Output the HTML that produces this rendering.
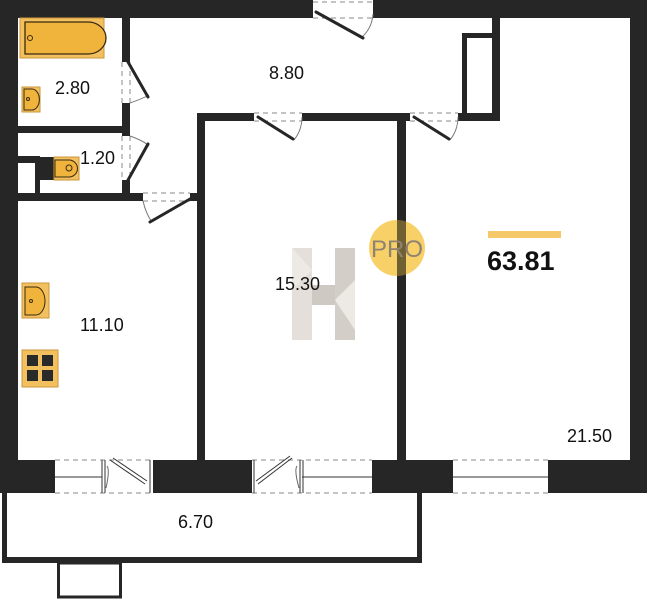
<!DOCTYPE html>
<html><head><meta charset="utf-8"><style>
html,body{margin:0;padding:0;background:#fff;}
svg{display:block;}
text{font-family:"Liberation Sans",sans-serif;fill:#111;}
</style></head><body>
<svg width="647" height="600" viewBox="0 0 647 600" xmlns="http://www.w3.org/2000/svg">
<g fill="#262626">
<!-- outer walls -->
<rect x="0" y="0" width="313" height="18"/>
<rect x="373" y="0" width="274" height="18"/>
<rect x="0" y="0" width="18" height="493"/>
<rect x="630" y="0" width="17" height="493"/>
<!-- bathroom partition -->
<rect x="122" y="18" width="8" height="44"/>
<rect x="122" y="103" width="8" height="33"/>
<rect x="122" y="180" width="8" height="21"/>
<rect x="18" y="126" width="107" height="7"/>
<rect x="18" y="193" width="125" height="8"/>
<rect x="190" y="193" width="15" height="8"/>
<rect x="18" y="156" width="22" height="7"/>
<rect x="35" y="156" width="5" height="40"/>
<rect x="40" y="157" width="14" height="23"/>
<!-- hall walls -->
<rect x="197" y="113" width="57" height="8"/>
<rect x="302" y="113" width="108" height="8"/>
<rect x="458" y="113" width="42" height="8"/>
<rect x="197" y="113" width="8" height="350"/>
<rect x="397" y="113" width="9" height="350"/>
<rect x="492" y="18" width="8" height="103"/>
<rect x="462" y="33" width="30" height="88"/>
<!-- bottom blocks -->
<rect x="0" y="460" width="55" height="33"/>
<rect x="153" y="460" width="99" height="33"/>
<rect x="372" y="460" width="81" height="33"/>
<rect x="548" y="460" width="99" height="33"/>
</g>
<rect x="467" y="38" width="25" height="75" fill="#fff"/>
<!-- balcony -->
<path d="M2 493 V563 H422 V493 H417 V557 H7 V493 Z" fill="#262626"/>
<rect x="58.5" y="563" width="62" height="34" fill="none" stroke="#262626" stroke-width="3"/>
<!-- windows -->
<g stroke="#888" stroke-width="1" stroke-dasharray="5,4" fill="none">
<line x1="55" y1="460" x2="153" y2="460"/><line x1="55" y1="493" x2="153" y2="493"/>
<line x1="252" y1="460" x2="372" y2="460"/><line x1="252" y1="493" x2="372" y2="493"/>
<line x1="453" y1="460" x2="548" y2="460"/><line x1="453" y1="493" x2="548" y2="493"/>
<line x1="313" y1="2" x2="373" y2="2"/><line x1="313" y1="18" x2="373" y2="18"/>
<line x1="254" y1="113" x2="302" y2="113"/><line x1="254" y1="121" x2="302" y2="121"/>
<line x1="410" y1="113" x2="458" y2="113"/><line x1="410" y1="121" x2="458" y2="121"/>
<line x1="122" y1="62" x2="122" y2="103"/><line x1="130" y1="62" x2="130" y2="103"/>
<line x1="122" y1="136" x2="122" y2="180"/><line x1="130" y1="136" x2="130" y2="180"/>
<line x1="143" y1="193" x2="190" y2="193"/><line x1="143" y1="201" x2="190" y2="201"/>
</g>
<g stroke="#333" stroke-width="1" fill="none">
<line x1="55" y1="477" x2="102" y2="477"/>
<line x1="302" y1="477" x2="372" y2="477"/>
<line x1="453" y1="477" x2="548" y2="477"/>
<line x1="102" y1="460" x2="102" y2="493"/><line x1="105" y1="460" x2="105" y2="493"/>
<line x1="150" y1="460" x2="150" y2="493"/>
<line x1="254" y1="460" x2="254" y2="493"/>
<line x1="300" y1="460" x2="300" y2="493"/><line x1="303" y1="460" x2="303" y2="493"/>
<path d="M110 460 L145 484 M113 458 L147 481"/>
<path d="M258 484 L292 458 M256 481 L290 456"/>
<path d="M107 466 Q110 470 106 488 M297 466 Q294 470 299 488" stroke="#666"/>
<path d="M373 14 Q372 28 362 37 M302 117 Q302 130 294 140 M458 117 Q458 130 450 140 M130 103 Q144 98 149 95 M130 136 Q144 141 149 146 M143 201 Q146 214 152 222" stroke="#777"/>
</g>
<g stroke="#262626" stroke-width="3" stroke-linecap="round">
<line x1="316" y1="12" x2="363" y2="38"/>
<line x1="258" y1="117" x2="293" y2="139"/>
<line x1="414" y1="117" x2="449" y2="139"/>
<line x1="128" y1="62" x2="148" y2="97"/>
<line x1="128" y1="180" x2="148" y2="144"/>
<line x1="190" y1="199" x2="150" y2="222"/>
</g>
<!-- fixtures -->
<rect x="20" y="18" width="84" height="40" fill="#f3c060" stroke="#c9963a"/>
<path d="M25 22 H88 A18 16 0 0 1 88 54 H25 Z" fill="#f0b43c" stroke="#3a2a10" stroke-width="1.3"/>
<circle cx="30" cy="38" r="2.5" fill="none" stroke="#3a2a10"/>
<rect x="22" y="87" width="18" height="25" fill="#f3c060" stroke="#c9963a"/>
<path d="M24 89 H32 A7 10 0 0 1 32 110 H24 Z" fill="#f0b43c" stroke="#3a2a10"/>
<circle cx="28" cy="99" r="1.5" fill="none" stroke="#3a2a10"/>
<rect x="54" y="157" width="25" height="23" fill="#f3c060" stroke="#c9963a"/>
<path d="M55 160 H69 A8 8 0 0 1 69 177 H55 Z" fill="#f0b43c" stroke="#3a2a10"/>
<circle cx="69" cy="168" r="3" fill="none" stroke="#3a2a10"/>
<rect x="22" y="283" width="27" height="35" fill="#f3c060" stroke="#c9963a"/>
<path d="M25 287 H36 A9 14 0 0 1 36 315 H25 Z" fill="#f0b43c" stroke="#3a2a10"/>
<circle cx="31" cy="301" r="1.5" fill="none" stroke="#3a2a10"/>
<rect x="22" y="350" width="36" height="37" fill="#f3c060" stroke="#c9963a"/>
<g fill="#2a2a2a"><rect x="27" y="355" width="11" height="11"/><rect x="42" y="355" width="11" height="11"/><rect x="27" y="370" width="11" height="11"/><rect x="42" y="370" width="11" height="11"/></g>
<!-- logo -->
<g opacity="0.55">
<rect x="292" y="248" width="20" height="92" fill="#cfc6bd"/>
<rect x="335" y="248" width="20" height="92" fill="#b0a79c"/>
<rect x="312" y="285" width="23" height="20" fill="#a89e94"/>
<path d="M292 248 L312 270 L292 290Z M335 300 L355 280 L355 330Z" fill="#e0dad3"/>
</g>
<circle cx="397" cy="248" r="28" fill="#f5c542" opacity="0.8"/>
<rect x="397" y="220" width="9" height="56" fill="#262626" opacity="0.55"/>
<text x="397" y="257" font-size="24" text-anchor="middle" style="fill:#8f8272">PRO</text>
<rect x="488" y="231" width="73" height="7" fill="#f5c96a"/>
<text x="487" y="270" font-size="27" font-weight="bold">63.81</text>
<!-- labels -->
<g font-size="18">
<text x="55" y="94">2.80</text>
<text x="269" y="79">8.80</text>
<text x="80" y="164">1.20</text>
<text x="80" y="331">11.10</text>
<text x="275" y="290">15.30</text>
<text x="567" y="442">21.50</text>
<text x="178" y="528">6.70</text>
</g>
</svg>
</body></html>
